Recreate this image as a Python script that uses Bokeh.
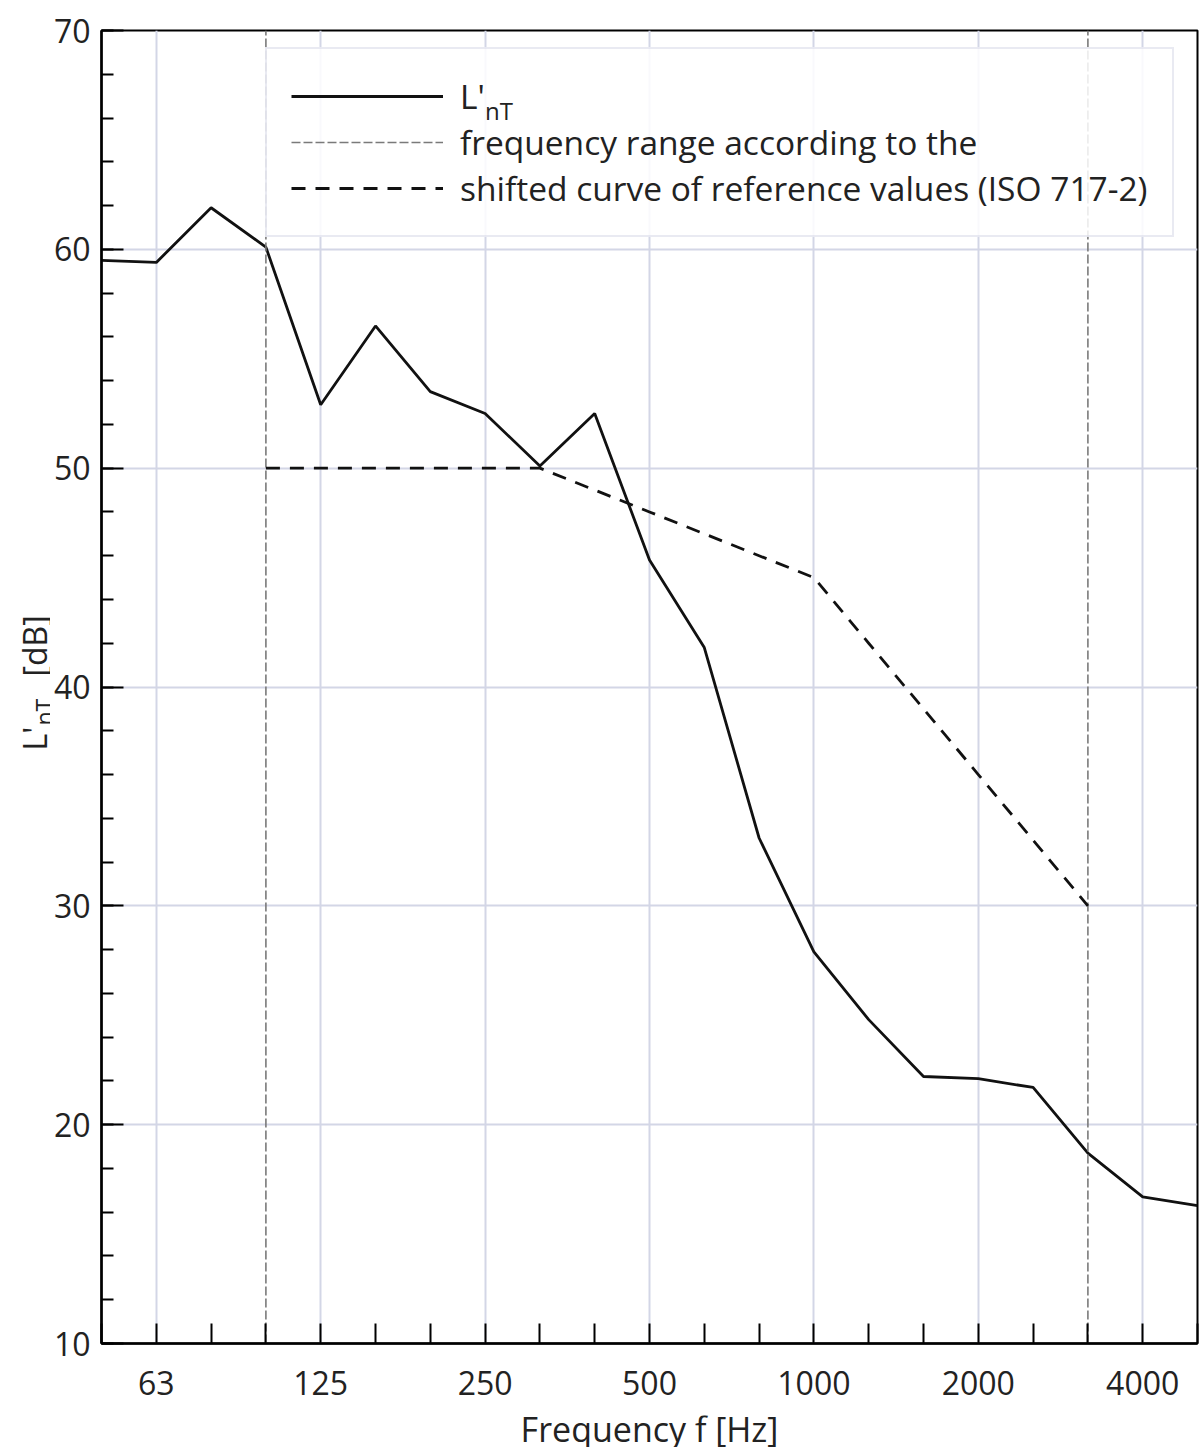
import math
from bokeh.plotting import figure
from bokeh.layouts import row, column
from bokeh.models import (Range1d, FixedTicker, SingleIntervalTicker, Legend,
                          LegendItem)
from bokeh.core.properties import value
from bokeh.embed import file_html
from bokeh.resources import INLINE

# ---- data -------------------------------------------------------------
bands = ["50", "63", "80", "100", "125", "160", "200", "250", "315", "400",
         "500", "630", "800", "1000", "1250", "1600", "2000", "2500", "3150",
         "4000", "5000"]
octave_labels = ["63", "125", "250", "500", "1000", "2000", "4000"]

lnt_values = [59.5, 59.4, 61.9, 60.1, 52.9, 56.5, 53.5, 52.5, 50.1, 52.5,
              45.8, 41.8, 33.1, 27.9, 24.8, 22.2, 22.1, 21.7, 18.7, 16.7, 16.3]

ref_bands = ["100", "125", "160", "200", "250", "315", "400", "500", "630",
             "800", "1000", "1250", "1600", "2000", "2500", "3150"]
ref_values = [50, 50, 50, 50, 50, 50, 49, 48, 47, 46, 45, 42, 39, 36, 33, 30]

range_bands = ["100", "3150"]
y_min, y_max = 10, 70

# ---- layout sizes -----------------------------------------------------
FONT = "Open Sans"
TXT = "#222222"
LEFT_W = 50          # strip for the y-axis title
MAIN_W = 1149
TOP_H = 1415
BOTTOM_H = 32        # strip for the x-axis title
FRAME_TOP, FRAME_BOTTOM = 30, 1343

# ---- main figure ------------------------------------------------------
p = figure(width=MAIN_W, height=TOP_H,
           x_range=Range1d(0, len(bands) - 1), y_range=Range1d(y_min, y_max),
           output_backend="svg", toolbar_location=None,
           min_border_left=51, min_border_right=2,
           min_border_top=FRAME_TOP,
           min_border_bottom=TOP_H - FRAME_BOTTOM)
p.outline_line_color = "black"
p.outline_line_width = 2
p.background_fill_color = "white"
p.border_fill_color = "white"

idx = {b: i for i, b in enumerate(bands)}
x_rng = [idx[b] for b in range_bands]

r_lnt = p.line([idx[b] for b in bands], lnt_values, line_color="#111111",
               line_width=2.8)
r_rng = p.segment(x0=x_rng, x1=x_rng, y0=[y_min] * len(x_rng),
                  y1=[y_max] * len(x_rng), line_color="#7a7a7a",
                  line_width=1.6, line_dash="9 3")
r_ref = p.line([idx[b] for b in ref_bands], ref_values, line_color="#111111",
               line_width=2.8, line_dash="14 10")

# ---- axes -------------------------------------------------------------
xa = p.xaxis[0]
xa.ticker = FixedTicker(ticks=list(range(len(bands))))
xa.major_label_overrides = {i: (b if b in octave_labels else "")
                            for i, b in enumerate(bands)}
xa.major_tick_in = 20
xa.major_tick_out = 0
xa.minor_tick_line_color = None
xa.major_tick_line_width = 2
xa.major_tick_line_color = "black"
xa.axis_line_width = 2.5
xa.axis_line_color = "black"
xa.major_label_text_font = FONT
xa.major_label_text_font_size = "32px"
xa.major_label_text_color = TXT
xa.major_label_standoff = 27

ya = p.yaxis[0]
ya.ticker = SingleIntervalTicker(interval=10, num_minor_ticks=5)
ya.major_tick_in = 22
ya.major_tick_out = 0
ya.minor_tick_in = 12
ya.minor_tick_out = 0
ya.major_tick_line_width = 2
ya.minor_tick_line_width = 2
ya.major_tick_line_color = "black"
ya.minor_tick_line_color = "black"
ya.axis_line_width = 2.5
ya.axis_line_color = "black"
ya.major_label_text_font = FONT
ya.major_label_text_font_size = "32px"
ya.major_label_text_color = TXT
ya.major_label_standoff = 11

p.xgrid.ticker = FixedTicker(ticks=[idx[b] for b in octave_labels])
p.ygrid.ticker = SingleIntervalTicker(interval=10)
for g in (p.xgrid[0], p.ygrid[0]):
    g.grid_line_color = "#d3d6e6"
    g.grid_line_width = 2

# ---- legend -----------------------------------------------------------
legend = Legend(items=[
    LegendItem(label="L'", renderers=[r_lnt]),
    LegendItem(label="frequency range according to the", renderers=[r_rng]),
    LegendItem(label="shifted curve of reference values (ISO 717-2)",
               renderers=[r_ref]),
], location=(164, 1106))
legend.label_text_font = FONT
legend.label_text_font_size = "33.5px"
legend.label_text_color = TXT
legend.glyph_width = 152
legend.glyph_height = 44
legend.label_height = 44
legend.label_standoff = 17
legend.padding = 24
legend.spacing = 0
legend.margin = 0
legend.border_line_color = "#d3d6e6"
legend.border_line_width = 2
legend.background_fill_color = "white"
legend.background_fill_alpha = 0.85
p.add_layout(legend)

# subscript "nT" of the first legend entry (second, glyph-less legend on top)
sub_legend = Legend(items=[LegendItem(label="nT", renderers=[r_lnt])],
                    location=(384, 1216))
sub_legend.label_text_font = FONT
sub_legend.label_text_font_size = "24px"
sub_legend.label_text_color = TXT
sub_legend.glyph_width = 0
sub_legend.glyph_height = 20
sub_legend.label_height = 20
sub_legend.label_standoff = 0
sub_legend.padding = 0
sub_legend.spacing = 0
sub_legend.margin = 0
sub_legend.border_line_color = None
sub_legend.background_fill_alpha = 0
p.add_layout(sub_legend)

# ---- y-axis title strip: L'nT [dB] (frame aligned with the main frame) ---
pl = figure(width=LEFT_W, height=TOP_H, x_range=Range1d(0, LEFT_W),
            y_range=Range1d(FRAME_BOTTOM, FRAME_TOP),
            x_axis_type=None, y_axis_type=None,
            output_backend="svg", toolbar_location=None, min_border=0)
pl.outline_line_color = None
pl.background_fill_color = "white"
pl.border_fill_color = "white"
pl.text(x=[34], y=[750], text=["L'"], angle=math.pi / 2,
        text_align="left", text_baseline="alphabetic",
        text_font=value(FONT), text_font_size="32px", text_color=TXT)
pl.text(x=[43], y=[725], text=["nT"], angle=math.pi / 2,
        text_align="left", text_baseline="alphabetic",
        text_font=value(FONT), text_font_size="23px", text_color=TXT)
pl.text(x=[34], y=[676], text=["[dB]"], angle=math.pi / 2,
        text_align="left", text_baseline="alphabetic",
        text_font=value(FONT), text_font_size="32px", text_color=TXT)

# ---- x-axis title strip ------------------------------------------------
TOTAL_W = LEFT_W + MAIN_W
pb = figure(width=TOTAL_W, height=BOTTOM_H, x_range=Range1d(0, TOTAL_W),
            y_range=Range1d(0, BOTTOM_H), x_axis_type=None, y_axis_type=None,
            output_backend="svg", toolbar_location=None, min_border=0)
pb.outline_line_color = None
pb.background_fill_color = "white"
pb.border_fill_color = "white"
pb.text(x=[LEFT_W + 51 + 1096 / 2], y=[19], text=["Frequency f [Hz]"],
        text_align="center", text_baseline="alphabetic",
        text_font=value(FONT), text_font_size="34px", text_color=TXT)

layout = column(row(pl, p, spacing=0), pb, spacing=0)
open("out.html", "w").write(file_html(layout, INLINE))
